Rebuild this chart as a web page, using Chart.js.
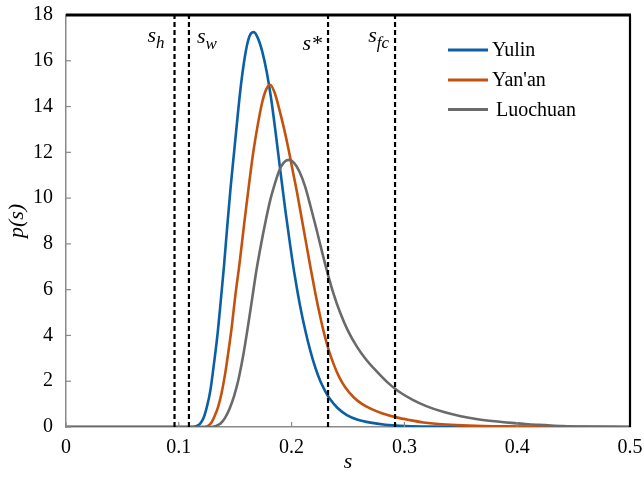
<!DOCTYPE html>
<html><head><meta charset="utf-8">
<script src="https://cdn.jsdelivr.net/npm/chart.js@4.4.0/dist/chart.umd.min.js"></script>
<style>html,body{margin:0;padding:0;background:#fff;}#wrap{width:644px;height:479px;}</style>
</head><body><div id="wrap"><canvas id="c" width="644" height="479"></canvas></div>
<script>
const seriesNames = ['Yulin', "Yan'an", 'Luochuan'];
const seriesColors = ['#0b5fa5', '#c4520f', '#6a6a6a'];

const sYulin = [0, 0.112, 0.116, 0.119, 0.122, 0.125, 0.128, 0.131, 0.134, 0.137, 0.140, 0.143, 0.146, 0.149, 0.152, 0.155, 0.158, 0.161, 0.164, 0.1665, 0.170, 0.174, 0.178, 0.182, 0.186, 0.190, 0.1945, 0.199, 0.203, 0.2075, 0.212, 0.2165, 0.221, 0.2255, 0.230, 0.234, 0.241, 0.249, 0.258, 0.270, 0.283, 0.296, 0.315, 0.5];
const pYulin = [0, 0, 0.05, 0.15, 0.4, 0.9, 1.6, 2.7, 3.9, 5.4, 7.0, 8.8, 10.5, 12.0, 13.5, 14.9, 16.0, 16.8, 17.2, 17.25, 17.0, 16.4, 15.5, 14.3, 12.8, 11.2, 9.45, 7.85, 6.55, 5.3, 4.25, 3.35, 2.6, 2.0, 1.55, 1.22, 0.82, 0.52, 0.33, 0.19, 0.1, 0.05, 0.02, 0];

const sYanan = [0, 0.122, 0.126, 0.129, 0.132, 0.135, 0.138, 0.141, 0.144, 0.147, 0.150, 0.154, 0.158, 0.162, 0.166, 0.170, 0.174, 0.1775, 0.181, 0.185, 0.189, 0.193, 0.197, 0.201, 0.205, 0.209, 0.213, 0.217, 0.221, 0.225, 0.229, 0.233, 0.237, 0.242, 0.248, 0.255, 0.262, 0.270, 0.280, 0.293, 0.305, 0.317, 0.330, 0.346, 0.370, 0.400, 0.430, 0.5];
const pYanan = [0, 0, 0.05, 0.2, 0.5, 0.9, 1.5, 2.3, 3.3, 4.4, 5.7, 7.2, 8.9, 10.5, 12.0, 13.2, 14.2, 14.75, 14.95, 14.6, 13.9, 13.1, 12.2, 11.2, 10.2, 9.1, 8.0, 6.9, 5.85, 4.9, 4.05, 3.35, 2.78, 2.2, 1.7, 1.3, 1.02, 0.8, 0.6, 0.42, 0.3, 0.2, 0.13, 0.08, 0.04, 0.02, 0, 0];

const sLuochuan = [0, 0.128, 0.133, 0.137, 0.141, 0.145, 0.149, 0.153, 0.157, 0.161, 0.165, 0.169, 0.173, 0.177, 0.181, 0.185, 0.189, 0.193, 0.1975, 0.202, 0.207, 0.212, 0.217, 0.222, 0.227, 0.232, 0.237, 0.243, 0.250, 0.258, 0.266, 0.275, 0.285, 0.295, 0.307, 0.320, 0.335, 0.350, 0.365, 0.380, 0.395, 0.410, 0.425, 0.440, 0.460, 0.5];
const pLuochuan = [0, 0, 0.05, 0.15, 0.4, 0.8, 1.35, 2.1, 3.1, 4.3, 5.6, 6.9, 8.0, 9.0, 9.9, 10.6, 11.2, 11.55, 11.67, 11.55, 11.15, 10.5, 9.6, 8.65, 7.65, 6.7, 5.85, 5.0, 4.2, 3.5, 2.95, 2.45, 1.95, 1.55, 1.2, 0.9, 0.65, 0.47, 0.34, 0.25, 0.18, 0.12, 0.08, 0.04, 0.015, 0];

const thresholdS = [0.0962, 0.109, 0.2323, 0.2917];
const thresholdMain = ['s', 's', 's*', 's'];
const thresholdSub = ['h', 'w', '', 'fc'];

const xTickLabels = ['0', '0.1', '0.2', '0.3', '0.4', '0.5'];
const yTickLabels = ['0', '2', '4', '6', '8', '10', '12', '14', '16', '18'];
const xTitle = 's';
const yTitle = 'p(s)';

const SERIF = '"Liberation Serif", "Times New Roman", serif';

function pts(xs, ys) { return xs.map((x, i) => ({ x: x, y: ys[i] })); }

const curveData = [pts(sYulin, pYulin), pts(sYanan, pYanan), pts(sLuochuan, pLuochuan)];

const datasets = [];
thresholdS.forEach((t, i) => {
  datasets.push({
    label: 'thr' + i,
    data: [{ x: t, y: 0 }, { x: t, y: 18 }],
    borderColor: '#000',
    borderWidth: 2.2,
    borderDash: [5, 3],
    pointRadius: 0,
    fill: false,
    order: 0
  });
});
[2, 1, 0].forEach(i => {
  datasets.push({
    label: seriesNames[i],
    data: curveData[i],
    borderColor: seriesColors[i],
    borderWidth: 2.6,
    pointRadius: 0,
    fill: false,
    cubicInterpolationMode: 'monotone',
    order: 1
  });
});

function zeroPad(s) { s.paddingLeft = 0; s.paddingRight = 0; s.paddingTop = 0; s.paddingBottom = 0; }

const decorPlugin = {
  id: 'decor',
  afterDatasetsDraw(chart) {
    const ctx = chart.ctx;
    const a = chart.chartArea;
    const xs = chart.scales.x, ys = chart.scales.y;
    ctx.save();
    ctx.strokeStyle = '#8a8a8a';
    ctx.lineWidth = 1.2;
    yTickLabels.forEach(l => {
      const y = ys.getPixelForValue(parseFloat(l));
      ctx.beginPath(); ctx.moveTo(a.left, y); ctx.lineTo(a.left + 5, y); ctx.stroke();
    });
    xTickLabels.forEach(l => {
      const x = xs.getPixelForValue(parseFloat(l));
      ctx.beginPath(); ctx.moveTo(x, a.bottom); ctx.lineTo(x, a.bottom - 5); ctx.stroke();
    });
    ctx.strokeStyle = '#000';
    ctx.lineWidth = 3;
    ctx.beginPath(); ctx.moveTo(a.left, a.top); ctx.lineTo(a.right + 1, a.top); ctx.stroke();
    ctx.lineWidth = 2.2;
    ctx.beginPath(); ctx.moveTo(a.right, a.top); ctx.lineTo(a.right, a.bottom); ctx.stroke();

    ctx.fillStyle = '#000';
    ctx.textBaseline = 'alphabetic';
    const mainFont = 'italic 22px ' + SERIF;
    const subFont = 'italic 17px ' + SERIF;
    const cfg = [
      { anchor: 'right', off: -10, base: 42 },
      { anchor: 'left', off: 8, base: 43 },
      { anchor: 'right', off: -6, base: 50 },
      { anchor: 'right', off: -6, base: 42 }
    ];
    thresholdS.forEach((t, i) => {
      const lx = xs.getPixelForValue(t);
      ctx.font = mainFont;
      const wm = ctx.measureText(thresholdMain[i]).width;
      ctx.font = subFont;
      const wsub = thresholdSub[i] ? ctx.measureText(thresholdSub[i]).width : 0;
      const total = wm + wsub;
      const c = cfg[i];
      let x0 = c.anchor === 'right' ? lx + c.off - total : lx + c.off;
      ctx.font = mainFont; ctx.textAlign = 'left';
      ctx.fillText(thresholdMain[i], x0, c.base);
      if (thresholdSub[i]) {
        ctx.font = subFont;
        ctx.fillText(thresholdSub[i], x0 + wm, c.base + 6);
      }
    });

    const legY = [50, 80, 109.5];
    const legTextX = [492, 492, 496];
    ctx.font = '20px ' + SERIF;
    ctx.textBaseline = 'middle';
    seriesNames.forEach((n, i) => {
      ctx.strokeStyle = seriesColors[i];
      ctx.lineWidth = 3;
      ctx.beginPath(); ctx.moveTo(448, legY[i]); ctx.lineTo(488, legY[i]); ctx.stroke();
      ctx.fillStyle = '#000';
      ctx.fillText(n, legTextX[i], legY[i] + 1);
    });
    ctx.restore();
  }
};

new Chart(document.getElementById('c'), {
  type: 'line',
  data: { datasets: datasets },
  plugins: [decorPlugin],
  options: {
    responsive: false,
    animation: false,
    devicePixelRatio: 1,
    layout: { padding: { top: 15, right: 14, left: 0, bottom: 0 } },
    plugins: { legend: { display: false }, tooltip: { enabled: false } },
    scales: {
      x: {
        type: 'linear', min: 0, max: 0.5,
        afterFit: s => { s.height = 52; zeroPad(s); },
        border: { display: true, color: '#8a8a8a', width: 1.5 },
        grid: { display: false, drawTicks: false },
        ticks: {
          stepSize: 0.1, padding: 9, color: '#000',
          font: { family: SERIF, size: 20 },
          callback: (v) => { const i = Math.round(v * 10); return xTickLabels[i] !== undefined ? xTickLabels[i] : ''; },
          maxRotation: 0
        },
        title: { display: true, text: xTitle, color: '#000', font: { family: SERIF, size: 22, style: 'italic' }, padding: { top: 0, bottom: 4 } }
      },
      y: {
        type: 'linear', min: 0, max: 18,
        afterFit: s => { s.width = 66; zeroPad(s); },
        border: { display: true, color: '#8a8a8a', width: 1.5 },
        grid: { display: false, drawTicks: false },
        ticks: {
          stepSize: 2, padding: 13, color: '#000',
          font: { family: SERIF, size: 20 },
          callback: (v) => { const i = Math.round(v / 2); return yTickLabels[i] !== undefined ? yTickLabels[i] : ''; }
        },
        title: { display: true, text: yTitle, color: '#000', font: { family: SERIF, size: 22, style: 'italic' }, padding: { top: 4, bottom: 0 } }
      }
    }
  }
});
</script>
</body></html>
